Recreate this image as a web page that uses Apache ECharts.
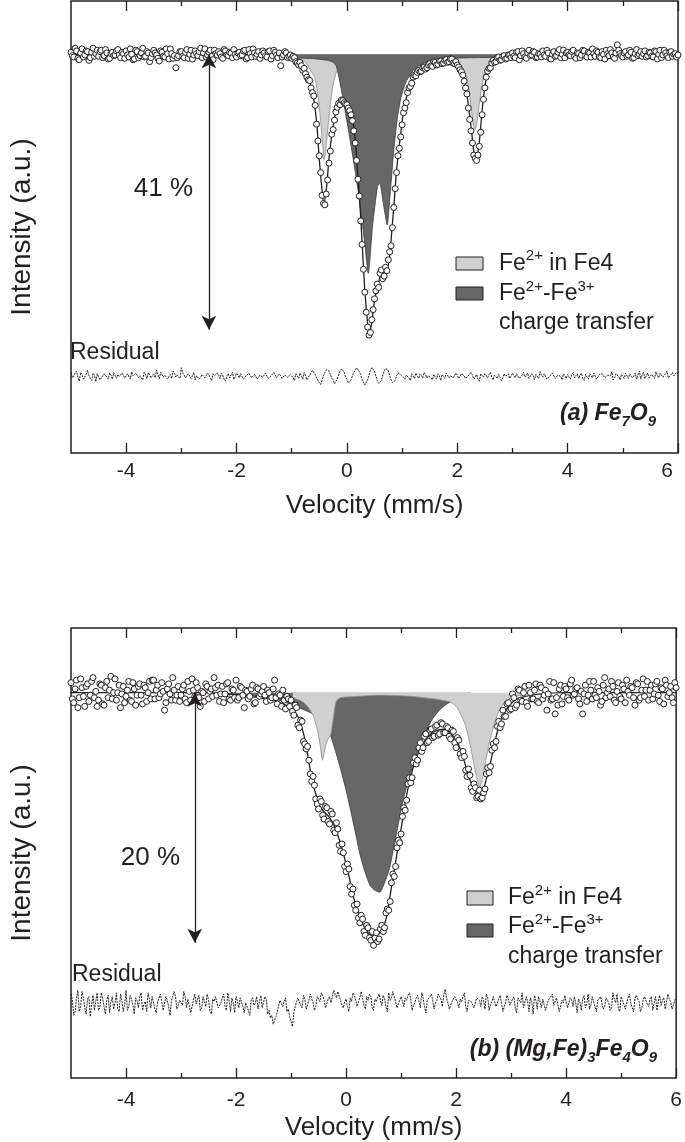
<!DOCTYPE html>
<html><head><meta charset="utf-8">
<script src="https://cdn.jsdelivr.net/npm/echarts@6/dist/echarts.min.js"></script>
<style>html,body{margin:0;padding:0;background:#fff}#c{width:685px;height:1142px}</style>
</head><body><div id="c"></div>
<script>
// ---------------- data ----------------
// channel velocities (mm/s)
const velocity = [
-5,-4.975,-4.95,-4.925,-4.9,-4.875,-4.85,-4.825,-4.8,-4.775,-4.75,-4.725,-4.7,-4.675,-4.65,-4.625,-4.6,-4.575,-4.55,-4.525,
-4.5,-4.475,-4.45,-4.425,-4.4,-4.375,-4.35,-4.325,-4.3,-4.275,-4.25,-4.225,-4.2,-4.175,-4.15,-4.125,-4.1,-4.075,-4.05,-4.025,
-4,-3.975,-3.95,-3.925,-3.9,-3.875,-3.85,-3.825,-3.8,-3.775,-3.75,-3.725,-3.7,-3.675,-3.65,-3.625,-3.6,-3.575,-3.55,-3.525,
-3.5,-3.475,-3.45,-3.425,-3.4,-3.375,-3.35,-3.325,-3.3,-3.275,-3.25,-3.225,-3.2,-3.175,-3.15,-3.125,-3.1,-3.075,-3.05,-3.025,
-3,-2.975,-2.95,-2.925,-2.9,-2.875,-2.85,-2.825,-2.8,-2.775,-2.75,-2.725,-2.7,-2.675,-2.65,-2.625,-2.6,-2.575,-2.55,-2.525,
-2.5,-2.475,-2.45,-2.425,-2.4,-2.375,-2.35,-2.325,-2.3,-2.275,-2.25,-2.225,-2.2,-2.175,-2.15,-2.125,-2.1,-2.075,-2.05,-2.025,
-2,-1.975,-1.95,-1.925,-1.9,-1.875,-1.85,-1.825,-1.8,-1.775,-1.75,-1.725,-1.7,-1.675,-1.65,-1.625,-1.6,-1.575,-1.55,-1.525,
-1.5,-1.475,-1.45,-1.425,-1.4,-1.375,-1.35,-1.325,-1.3,-1.275,-1.25,-1.225,-1.2,-1.175,-1.15,-1.125,-1.1,-1.075,-1.05,-1.025,
-1,-0.975,-0.95,-0.925,-0.9,-0.875,-0.85,-0.825,-0.8,-0.775,-0.75,-0.725,-0.7,-0.675,-0.65,-0.625,-0.6,-0.575,-0.55,-0.525,
-0.5,-0.475,-0.45,-0.425,-0.4,-0.375,-0.35,-0.325,-0.3,-0.275,-0.25,-0.225,-0.2,-0.175,-0.15,-0.125,-0.1,-0.075,-0.05,-0.025,
0,0.025,0.05,0.075,0.1,0.125,0.15,0.175,0.2,0.225,0.25,0.275,0.3,0.325,0.35,0.375,0.4,0.425,0.45,0.475,
0.5,0.525,0.55,0.575,0.6,0.625,0.65,0.675,0.7,0.725,0.75,0.775,0.8,0.825,0.85,0.875,0.9,0.925,0.95,0.975,
1,1.025,1.05,1.075,1.1,1.125,1.15,1.175,1.2,1.225,1.25,1.275,1.3,1.325,1.35,1.375,1.4,1.425,1.45,1.475,
1.5,1.525,1.55,1.575,1.6,1.625,1.65,1.675,1.7,1.725,1.75,1.775,1.8,1.825,1.85,1.875,1.9,1.925,1.95,1.975,
2,2.025,2.05,2.075,2.1,2.125,2.15,2.175,2.2,2.225,2.25,2.275,2.3,2.325,2.35,2.375,2.4,2.425,2.45,2.475,
2.5,2.525,2.55,2.575,2.6,2.625,2.65,2.675,2.7,2.725,2.75,2.775,2.8,2.825,2.85,2.875,2.9,2.925,2.95,2.975,
3,3.025,3.05,3.075,3.1,3.125,3.15,3.175,3.2,3.225,3.25,3.275,3.3,3.325,3.35,3.375,3.4,3.425,3.45,3.475,
3.5,3.525,3.55,3.575,3.6,3.625,3.65,3.675,3.7,3.725,3.75,3.775,3.8,3.825,3.85,3.875,3.9,3.925,3.95,3.975,
4,4.025,4.05,4.075,4.1,4.125,4.15,4.175,4.2,4.225,4.25,4.275,4.3,4.325,4.35,4.375,4.4,4.425,4.45,4.475,
4.5,4.525,4.55,4.575,4.6,4.625,4.65,4.675,4.7,4.725,4.75,4.775,4.8,4.825,4.85,4.875,4.9,4.925,4.95,4.975,
5,5.025,5.05,5.075,5.1,5.125,5.15,5.175,5.2,5.225,5.25,5.275,5.3,5.325,5.35,5.375,5.4,5.425,5.45,5.475,
5.5,5.525,5.55,5.575,5.6,5.625,5.65,5.675,5.7,5.725,5.75,5.775,5.8,5.825,5.85,5.875,5.9,5.925,5.95,5.975,6];

// (a) Fe7O9 measured transmission (%)
const intensityA = [
100.3,99.8,99.6,100.9,100.5,99.4,99.2,100.2,100.8,99.6,99.9,100.5,100.4,99.1,99.5,100.3,100.9,99.7,100.1,100.6,
99.7,100.4,100.6,99.5,99.8,100.7,100.2,99.3,99.4,100.1,100.3,99.8,99.9,100.5,100.7,99.9,99.5,100.3,100.1,99.4,
100.5,99.9,99.6,100.8,100.0,99.2,99.3,100.6,100.4,99.5,99.8,100.2,100.9,99.6,99.7,100.4,100.2,98.9,99.5,100.1,
100.6,100.2,99.9,99.4,99.0,100.5,100.3,99.7,99.6,100.8,100.1,99.3,100.8,100.1,99.4,99.8,98.0,99.5,99.8,100.4,
100.4,99.7,99.5,100.3,100.7,99.4,100.0,100.6,99.3,99.9,100.5,100.1,99.8,100.4,100.9,99.5,100.2,100.8,99.6,99.9,
100.3,100.6,99.7,99.2,100.6,100.1,99.9,100.4,100.1,99.6,99.4,100.7,100.5,99.9,99.8,100.3,100.2,99.5,100.7,100.0,
99.6,100.2,100.3,99.8,99.9,100.5,100.6,99.3,99.5,100.7,100.1,99.6,100.8,100.2,99.7,100.0,100.4,99.4,99.9,100.5,
100.2,99.8,99.6,100.4,100.5,99.3,99.8,100.6,100.3,99.9,99.5,100.2,98.3,99.6,99.9,100.4,100.2,99.5,99.7,99.9,
99.4,99.7,99.5,98.9,98.7,98.4,98.8,98.3,97.6,97.9,97.1,96.6,96.2,96.1,95.0,94.3,93.8,92.4,89.6,87.1,
84.9,82.4,79.0,77.8,77.6,79.2,81.3,83.8,85.6,88.1,88.8,90.2,91.4,92.1,92.7,92.5,93.2,93.1,92.8,92.6,
92.5,92.0,91.6,91.0,90.1,88.6,86.8,84.2,81.4,78.9,75.2,71.7,68.0,64.6,61.6,59.4,58.2,58.6,60.5,62.0,
63.6,64.8,65.8,65.3,67.4,67.9,66.6,67.0,68.3,67.8,69.4,70.6,71.5,74.2,77.2,80.0,82.4,84.9,86.0,87.7,
89.5,91.3,92.0,92.8,94.3,95.0,95.2,95.7,96.6,96.9,96.8,97.3,97.6,97.4,97.5,98.0,98.1,97.8,98.0,98.4,
98.6,98.3,98.2,98.9,98.8,98.4,98.5,99.0,99.0,98.6,98.7,99.1,99.2,98.8,98.9,99.3,99.3,98.7,98.6,98.9,
98.4,98.1,97.7,97.4,96.9,96.0,95.0,94.1,92.0,90.3,88.6,86.8,85.0,84.5,84.2,85.0,86.3,88.4,91.0,93.3,
95.0,96.6,97.5,97.9,98.0,98.7,99.1,98.8,98.9,99.5,99.6,99.1,99.2,99.7,99.8,99.3,99.4,99.9,99.9,99.5,
100.2,99.7,99.5,100.3,100.4,99.2,99.8,100.5,100.1,99.6,99.4,100.2,100.6,99.8,99.9,100.4,100.3,99.5,99.6,100.1,
100.0,99.6,100.5,99.9,99.7,100.6,100.2,99.4,99.3,100.0,100.4,99.7,99.8,100.3,100.7,99.5,100.0,100.6,99.5,100.2,
100.3,99.9,99.8,100.4,100.6,99.7,99.4,100.2,100.1,99.5,99.9,100.6,100.5,99.8,99.6,100.3,100.2,99.6,100.8,100.1,
99.7,100.5,100.3,99.6,99.5,100.4,100.0,99.3,100.6,100.1,99.8,100.7,100.2,99.6,99.4,100.2,101.4,100.6,100.1,99.8,
99.6,100.2,100.4,99.7,99.9,100.6,100.3,99.4,99.5,100.1,100.7,99.8,100.0,100.4,99.7,100.1,100.5,99.6,99.8,100.3,
100.2,99.7,99.6,100.5,100.4,99.3,100.0,100.6,99.5,99.9,100.6,100.2,99.8,99.5,100.3,100.4,99.7,100.0,100.1,99.6,99.9];

const residualA = [
0.6,-0.2,-0.4,0.5,0.8,-0.1,-0.7,0.6,0.3,-0.4,-0.5,0.3,0.9,0.1,-0.3,-0.6,0.5,0.2,-0.8,0.4,
0.2,-0.5,-0.3,0.1,0.4,0.3,-0.1,-0.4,0.5,0.2,-0.4,0.6,0.1,-0.3,0.3,0.0,-0.2,0.5,0.6,-0.2,
-0.3,0.4,0.2,-0.4,0.7,0.1,-0.1,0.5,0.4,-0.2,0.1,0.3,-0.5,0.6,0.3,-0.3,0.6,0.2,-0.2,0.1,
0.4,-0.2,0.9,0.3,-0.3,0.6,0.5,-0.1,0.2,0.4,-0.4,0.0,0.3,-0.3,0.8,0.5,-0.1,0.2,0.4,-0.3,
1.3,0.5,0.2,-0.2,-0.2,0.4,0.6,-0.3,0.1,0.6,-0.5,0.1,0.3,-0.4,-0.1,0.3,0.4,-0.2,-0.4,0.5,
0.2,-0.3,-0.6,0.4,0.1,-0.1,0.5,0.2,-0.3,0.5,0.2,-0.4,-0.7,0.1,0.4,-0.2,0.0,0.6,-0.4,-0.1,
0.5,0.2,-0.2,0.4,0.3,-0.4,-0.5,0.1,0.2,0.5,0.6,-0.2,-0.3,0.3,0.1,-0.4,-0.6,0.2,0.3,-0.1,
-0.2,0.5,0.4,-0.3,-0.4,0.1,0.2,0.6,0.5,-0.2,-0.3,0.4,0.1,-0.3,-0.5,0.2,0.4,-0.1,-0.1,0.3,
0.3,-0.2,-0.6,0.4,0.2,-0.3,0.5,0.1,-0.4,0.6,0.1,-0.5,-0.7,0.2,0.4,0.9,0.8,0.3,-0.2,-0.6,
-0.9,-1.2,-1.1,0.1,0.3,1.0,0.9,0.8,0.6,-0.2,-0.5,-1.1,-1.0,-0.4,0.2,0.8,1.1,1.0,0.7,-0.1,
-0.4,-1.0,-1.2,-0.5,0.1,0.6,0.9,1.3,1.2,0.7,0.3,-0.4,-0.9,-1.3,-1.1,-0.5,0.2,0.9,1.3,1.1,
0.8,0.1,-0.6,-1.0,-1.1,-0.6,0.2,0.8,1.2,1.1,0.9,0.1,-0.5,-0.9,-1.0,-0.6,0.1,0.5,0.7,0.3,
0.5,-0.1,-0.4,0.2,0.3,-0.2,-0.6,0.4,0.2,-0.3,0.5,0.1,-0.3,0.4,0.1,-0.2,0.6,0.3,-0.2,0.1,
0.3,-0.2,-0.5,0.3,0.1,-0.4,0.4,0.1,-0.6,0.3,0.2,-0.3,0.5,0.4,-0.2,0.1,0.3,-0.2,-0.4,0.5,
0.2,-0.3,-0.1,0.4,0.5,0.1,-0.3,-0.5,0.1,0.3,0.6,0.2,-0.4,-0.1,0.3,-0.4,-0.7,0.4,0.2,-0.1,
0.4,0.1,-0.2,0.3,0.6,-0.1,-0.5,0.2,0.2,-0.3,0.3,0.5,-0.6,-0.2,0.4,0.0,0.1,0.4,-0.3,-0.2,
0.5,0.1,-0.2,0.4,0.3,-0.3,-0.4,0.2,0.6,-0.1,0.1,0.5,-0.3,-0.4,0.4,0.1,-0.5,0.3,0.2,-0.3,
0.7,0.2,-0.1,0.4,0.3,-0.4,-0.6,0.1,0.2,0.5,0.5,-0.3,-0.2,0.2,0.4,0.0,-0.5,0.4,0.1,-0.3,
0.3,-0.1,-0.4,0.3,0.6,-0.2,0.1,0.4,-0.3,0.2,0.5,-0.3,-0.6,0.3,0.2,-0.4,0.4,0.1,-0.2,0.5,
0.6,-0.4,-0.3,0.3,0.1,0.4,0.5,-0.2,-0.4,0.2,0.3,0.1,0.7,-0.5,-0.2,0.4,0.4,0.0,-0.5,0.3,
0.2,-0.3,0.5,0.1,-0.3,0.4,0.6,-0.2,0.1,0.5,-0.4,0.3,0.8,-0.4,0.2,0.6,-0.3,0.1,0.5,-0.2,
-0.1,0.3,0.4,-0.3,0.7,0.2,-0.2,0.5,0.5,-0.1,0.1,0.4,0.8,-0.2,-0.3,0.3,0.6,0.1,0.2,0.6,0.4];

// (b) (Mg,Fe)3Fe4O9 measured transmission (%)
const intensityB = [
100.8,99.5,99.2,100.3,101.0,98.8,99.6,101.1,100.4,99.7,98.9,100.5,100.7,99.3,99.8,100.9,101.2,99.6,100.1,98.9,
99.4,100.7,100.6,99.1,99.0,100.4,100.9,99.6,100.2,101.3,99.5,100.0,101.1,99.4,100.0,100.6,98.8,99.9,100.5,99.2,
99.7,100.2,100.9,99.4,99.3,100.8,100.3,99.0,99.8,100.5,100.7,99.8,99.1,100.6,100.4,99.3,100.0,100.9,99.5,101.0,
101.0,99.5,100.2,100.6,99.6,99.9,100.8,100.1,98.6,99.2,100.3,100.7,99.9,99.4,101.2,100.2,99.4,99.8,100.5,99.3,
99.8,100.3,100.6,99.5,99.2,100.9,100.1,99.4,101.1,100.2,99.7,100.8,100.4,99.6,98.9,100.1,100.0,99.3,100.7,100.5,
99.5,100.1,100.3,99.7,101.2,100.4,99.8,100.6,99.3,99.9,100.5,99.2,99.9,100.7,100.8,99.5,99.4,100.3,100.2,99.6,
101.0,99.4,99.6,100.5,100.4,99.8,98.8,100.2,100.1,99.5,99.7,100.3,100.6,99.1,99.2,100.4,100.3,99.7,99.9,100.1,
100.5,99.8,99.3,100.2,100.0,99.4,99.6,100.3,101.0,99.6,99.1,99.9,99.8,98.9,100.2,99.4,98.7,99.7,99.5,98.9,
99.4,98.5,98.2,99.0,98.8,97.4,97.2,97.8,97.7,96.1,95.9,95.5,95.7,94.6,93.5,92.9,93.3,92.6,91.5,91.1,
90.7,91.5,91.3,90.2,89.9,90.9,90.8,89.7,89.5,90.5,90.3,89.0,88.8,89.6,89.1,87.8,87.3,87.9,87.2,86.1,
85.7,86.3,85.9,84.5,83.9,84.3,83.0,82.6,83.1,82.0,81.6,82.2,81.9,80.9,80.6,81.4,81.2,80.4,80.2,80.9,
79.8,80.4,80.8,80.1,80.3,81.1,81.4,80.9,81.2,82.4,82.7,82.6,83.3,84.8,85.5,85.3,86.1,87.6,88.2,88.0,
88.7,90.1,90.8,90.6,91.4,92.7,93.2,92.8,93.2,94.4,94.8,94.3,94.6,95.6,96.0,95.3,95.6,96.5,96.7,96.0,
96.1,97.0,97.1,96.4,96.5,97.3,97.4,96.6,96.7,97.6,97.5,96.8,96.8,97.3,97.2,96.5,96.3,97.0,96.9,96.0,
95.6,96.4,96.2,95.1,94.8,95.3,94.9,93.8,93.3,93.9,93.4,92.4,92.1,92.7,92.4,91.6,91.7,92.2,91.5,91.6,
92.0,92.3,93.5,94.0,93.6,94.1,95.4,95.9,95.6,96.1,97.3,97.7,97.2,97.5,98.6,98.1,98.1,99.1,99.2,98.6,
98.7,99.9,99.6,98.8,99.0,100.3,100.2,99.4,99.3,100.0,100.5,99.2,98.9,100.6,100.0,99.5,99.5,100.2,100.7,99.3,
99.2,100.6,100.4,99.5,99.8,100.2,98.6,99.9,100.9,99.4,99.5,100.8,98.3,99.6,99.0,100.3,100.6,99.1,99.7,100.5,
100.3,99.6,99.4,100.7,101.0,99.8,99.9,100.3,100.4,99.5,99.1,100.1,98.3,99.9,100.6,99.3,99.8,100.9,100.2,99.5,
100.9,99.8,99.6,100.4,100.1,99.0,99.3,100.6,101.2,99.6,100.0,100.3,99.7,100.9,100.5,99.4,99.2,100.1,100.8,99.7,
99.5,100.6,100.3,99.2,101.0,100.1,99.8,100.5,100.4,99.6,99.0,100.8,100.7,99.4,99.6,100.2,101.1,99.7,100.2,100.9,
99.4,100.2,100.6,99.5,99.9,100.7,100.9,99.8,99.3,100.4,100.3,99.1,101.0,100.6,99.7,100.0,100.5,99.6,99.2,100.8,100.4];

const residualB = [
0.8,0.3,-0.9,-0.6,0.5,1.1,-0.6,-0.2,1.0,0.5,-0.3,-0.8,0.4,0.6,-1.0,0.0,0.7,-0.5,0.2,0.9,
-0.5,-0.3,0.9,0.5,-0.2,-0.8,0.3,0.7,-0.7,0.2,0.6,-0.4,0.1,0.9,-0.4,-0.6,0.8,0.3,-0.6,0.0,
1.1,-0.5,-0.2,0.7,0.4,-0.1,-0.8,0.5,0.3,-0.3,0.6,0.9,-0.5,0.0,0.2,-0.6,0.9,0.4,-0.3,0.6,
0.5,-0.4,-0.7,0.2,0.1,0.8,0.7,-0.5,-0.4,0.6,0.3,-0.2,-0.9,0.3,0.2,1.0,0.6,-0.4,-0.1,0.3,
0.4,-0.1,1.0,0.6,-0.3,0.4,0.5,-0.7,-0.6,0.3,0.8,0.0,0.1,0.7,-0.5,-0.3,0.6,0.2,-0.2,0.8,
0.3,-0.5,-0.8,0.4,0.2,0.6,0.7,-0.3,-0.4,0.1,0.5,0.8,-0.2,-0.5,0.9,0.3,-0.6,0.5,0.1,-0.7,
0.6,0.2,-0.3,0.5,0.4,-0.2,-0.7,0.1,0.2,-0.5,-0.9,0.3,0.5,-0.1,0.1,0.6,-0.4,0.2,0.7,-0.3,
-0.2,0.6,0.4,-0.8,-0.5,-1.1,-0.9,-1.6,-1.3,-1.0,-0.6,-0.1,0.3,0.4,-0.2,0.2,0.5,-0.6,-0.4,-1.0,
-1.4,-1.8,-0.7,-0.2,0.2,0.5,0.6,-0.1,-0.3,0.7,0.4,-0.4,-0.5,0.3,0.8,0.4,0.1,-0.5,-0.2,0.6,
0.5,0.2,0.9,0.7,0.3,-0.3,-0.4,0.4,0.6,0.1,0.2,1.1,0.8,0.5,1.0,0.6,0.3,-0.1,-0.3,0.2,
0.4,-0.2,-0.6,0.5,0.2,0.9,0.7,0.3,-0.2,0.2,0.5,1.0,0.9,-0.1,-0.4,0.6,0.3,0.8,0.6,-0.3,
-0.5,0.4,0.2,0.6,0.8,0.3,-0.1,0.7,0.4,-0.2,-0.6,0.9,0.3,0.5,1.0,0.6,0.2,-0.3,-0.4,0.3,
0.6,0.2,-0.2,0.5,0.3,0.7,0.9,0.4,-0.5,-0.1,0.1,0.5,0.7,0.2,-0.3,0.9,0.5,-0.2,-0.7,0.3,
0.2,0.6,0.8,0.3,-0.4,0.1,0.3,0.8,0.6,0.4,-0.2,0.7,1.2,0.5,0.1,-0.4,-0.5,0.2,0.4,0.6,
0.7,0.1,-0.3,0.4,0.2,0.6,0.9,-0.2,-0.6,0.3,0.4,0.2,0.1,-0.3,-0.4,0.5,0.6,0.3,-0.2,0.6,
0.3,-0.4,0.8,0.5,-0.5,-0.1,0.2,0.6,0.5,-0.2,-0.3,0.4,0.7,0.1,-0.6,-0.2,0.1,0.7,0.4,-0.1,
-0.2,0.4,0.6,-0.3,-0.7,0.5,0.3,0.1,0.9,-0.3,-0.4,0.6,0.2,-0.6,0.5,0.2,-0.8,0.7,0.3,-0.4,
0.6,0.2,-0.3,0.4,0.4,-0.5,-0.6,0.3,0.2,0.6,0.8,-0.1,-0.2,0.5,0.5,-0.6,-0.5,0.3,0.1,0.7,
0.7,-0.3,-0.4,0.5,0.3,-0.2,0.6,0.1,-0.7,0.4,0.2,-0.5,0.4,0.7,-0.3,0.0,0.8,-0.4,-0.1,0.6,
0.5,-0.2,-0.6,0.3,0.2,0.6,0.7,-0.4,-0.2,0.5,0.4,0.1,-0.5,-0.3,0.9,0.4,0.1,0.8,-0.4,-0.6,
0.6,0.3,0.2,-0.4,-0.5,0.5,0.8,0.1,-0.3,-0.6,0.4,0.7,0.7,0.2,-0.6,-0.3,0.3,0.6,0.5,0.0,
-0.2,0.4,0.6,-0.5,0.1,0.6,-0.5,0.2,0.7,-0.1,0.3,0.5,-0.4,-0.3,0.8,0.4,0.2,-0.4,-0.3,0.3,0.5];

// fitted envelope and sub-spectra (velocity, transmission %)
const fitA_v = [-5,-1.2,-1.11,-1.0,-0.875,-0.755,-0.666,-0.607,-0.546,-0.505,-0.457,-0.421,-0.368,-0.327,-0.279,-0.22,-0.148,-0.071,0.018,0.09,0.15,0.196,0.245,0.286,0.328,0.375,0.405,0.447,0.495,0.554,0.625,0.703,0.75,0.78,0.821,0.864,0.9,0.941,0.982,1.03,1.09,1.18,1.27,1.39,1.51,1.69,1.86,1.98,2.10,2.17,2.22,2.27,2.31,2.34,2.39,2.43,2.47,2.52,2.58,2.70,2.94,3.2,6];
const fitA_t = [100,100,99.95,99.6,98.7,97.4,95.7,93.7,89.7,84.8,80.3,77.8,80.3,84.3,87.7,90.7,92.5,92.95,92.5,91.0,87.3,82.3,76.4,70.4,64.5,60.0,58.3,60.0,63.0,65.4,67.3,67.6,68.6,70.4,74.4,78.8,82.8,85.8,88.7,91.7,93.9,96.2,97.2,97.9,98.4,98.75,99.05,98.75,97.2,94.2,91.2,87.7,85.0,84.5,86.3,89.7,93.2,96.2,97.9,99.15,99.55,99.9,100];
const fe4A_v = [-1.0,-0.85,-0.75,-0.65,-0.58,-0.52,-0.48,-0.44,-0.41,-0.38,-0.34,-0.30,-0.25,-0.18,-0.1,0.0,0.3,0.8,1.4,1.8,2.0,2.1,2.17,2.22,2.26,2.29,2.32,2.35,2.39,2.44,2.5,2.6,2.8,2.9];
const fe4A_t = [99.7,99.3,98.8,97.5,96.5,93.5,90.5,86.5,84.3,86.0,89.5,92.5,95.5,97.6,98.6,99.1,99.5,99.7,99.6,99.4,98.8,98.0,96.5,94.0,91.5,89.5,88.85,89.5,92.0,95.0,97.3,98.7,99.5,99.7];
const ctA_v = [-1.05,-0.9,-0.6,-0.35,-0.25,-0.19,-0.10,0.018,0.137,0.227,0.316,0.388,0.464,0.554,0.596,0.66,0.73,0.79,0.85,0.91,0.97,1.06,1.18,1.33,1.51,1.86,2.3,2.70,2.85];
const ctA_t = [99.5,99.45,99.35,99.1,98.8,98.2,94.7,89.2,83.3,78.3,72.4,67.4,74.4,80.3,80.8,77.8,74.6,79.8,85.8,90.2,93.2,95.7,97.4,98.4,99.05,99.4,99.5,99.55,99.6];

const fitB_v = [-5,-2.6,-2.2,-1.9,-1.6,-1.47,-1.23,-0.99,-0.875,-0.786,-0.725,-0.666,-0.607,-0.546,-0.488,-0.398,-0.309,-0.22,-0.13,-0.041,0.048,0.138,0.257,0.375,0.495,0.584,0.673,0.745,0.793,0.852,0.911,0.971,1.03,1.10,1.18,1.27,1.39,1.51,1.63,1.775,1.89,2.01,2.10,2.19,2.28,2.37,2.43,2.49,2.55,2.64,2.73,2.82,2.94,3.05,3.17,3.5,4.0,6];
const fitB_t = [100,100,99.9,99.8,99.6,99.5,99.25,98.75,98.1,96.95,95.76,94.17,92.85,91.8,91.0,90.46,90.07,89.4,88.34,87.0,85.43,83.6,82.0,80.93,80.53,80.66,81.2,82.25,83.58,85.16,86.75,88.34,89.93,91.78,93.37,94.7,95.89,96.55,96.95,97.08,96.8,96.15,95.23,93.9,92.7,91.9,91.8,92.2,93.1,94.7,96.55,97.9,98.8,99.33,99.6,99.88,100,100];
const fe4B_v = [-0.97,-0.8,-0.7,-0.6,-0.52,-0.47,-0.43,-0.38,-0.33,-0.28,-0.23,-0.18,-0.1,0.2,0.6,1.2,1.6,1.8,1.92,2.02,2.10,2.16,2.22,2.28,2.34,2.43,2.49,2.58,2.70,2.82,3.0,3.2];
const fe4B_t = [99.6,99.3,98.9,98.2,97.0,95.8,94.6,95.6,96.3,96.6,98.0,99.3,99.6,99.7,99.8,99.7,99.5,99.35,99.2,98.8,98.14,97.5,96.55,95.3,93.9,92.45,93.37,95.5,97.6,98.9,99.6,99.8];
const ctB_v = [-2.5,-2.0,-1.5,-1.2,-1.0,-0.8,-0.6,-0.45,-0.35,-0.28,-0.19,-0.1,0.0,0.078,0.17,0.257,0.35,0.435,0.52,0.614,0.70,0.79,0.91,1.03,1.21,1.39,1.57,1.74,1.92,2.1,2.25];
const ctB_t = [100,99.88,99.62,99.38,99.05,98.7,98.3,97.85,97.3,96.55,95.3,93.9,92.2,90.7,88.8,87.0,85.6,84.6,84.2,84.05,84.8,85.96,88.6,91.26,94.17,96.3,97.9,98.8,99.33,99.73,100];

const xMajorTicks = [-4,-2,0,2,4,6];
const xMinorTicks = [-3,-1,1,3,5];
const baseline = 100;
const depthA = 41, depthB = 20;
const arrowXA = -2.5, arrowXB = -2.75;
const residualOffsetA = 52.05, residualOffsetB = 75.1;

// ---------------- styling ----------------
const INK = '#231f20';
const FONT = '"Liberation Sans", Arial, Helvetica, sans-serif';
const LIGHT = '#d0d0d0';
const DARK = '#676767';

const pairs = (xs, ys) => xs.map((x, i) => [x, ys[i]]);
const offsetPairs = (xs, ys, off) => xs.map((x, i) => [x, off + ys[i]]);

function xAx(gi, pos, ticks, len, labelled, shiftLast, margin, nameGap) {
  const lab = labelled ? {
    show: true, customValues: xMajorTicks, margin: margin, fontSize: 21, color: INK, fontFamily: FONT,
    formatter: v => (shiftLast && v === 6) ? '{r|6}' : String(v),
    rich: { r: { fontSize: 21, color: INK, fontFamily: FONT, padding: [0, 22, 0, 0] } }
  } : { show: false };
  return {
    type: 'value', gridIndex: gi, position: pos, min: -5, max: 6,
    axisLine: { show: false }, splitLine: { show: false },
    axisTick: { show: true, inside: true, length: len, customValues: ticks, lineStyle: { color: INK, width: 1.3 } },
    axisLabel: lab,
    name: labelled ? 'Velocity (mm/s)' : '',
    nameLocation: 'middle', nameGap: nameGap || 40,
    nameTextStyle: { fontSize: 26, color: INK, fontFamily: FONT }
  };
}
function yAx(gi, min, max) {
  return {
    type: 'value', gridIndex: gi, min: min, max: max,
    axisLine: { show: false }, axisTick: { show: false }, axisLabel: { show: false }, splitLine: { show: false },
    name: 'Intensity (a.u.)', nameLocation: 'middle', nameRotate: 90, nameGap: 35,
    nameTextStyle: { fontSize: 28, color: INK, fontFamily: FONT }
  };
}
function area(name, xi, yi, data, color, edge, z) {
  return { name, type: 'line', xAxisIndex: xi, yAxisIndex: yi, data, showSymbol: false, smooth: 0.2,
    lineStyle: { color: edge, width: 0.8 }, areaStyle: { color: color, opacity: 1, origin: baseline }, z: z, silent: true };
}
function panelSeries(xi, yi, d) {
  const light = area('Fe2+ in Fe4', xi, yi, pairs(d.fe4v, d.fe4t), LIGHT, '#8a8a8a', d.darkOnTop ? 1 : 2);
  const dark = area('charge transfer', xi, yi, pairs(d.ctv, d.ctt), DARK, '#3a3a3a', d.darkOnTop ? 2 : 1);
  const layers = d.darkOnTop ? [light, dark] : [dark, light];
  return layers.concat([
    { type: 'line', xAxisIndex: xi, yAxisIndex: yi, data: pairs(d.fitv, d.fitt), showSymbol: false, smooth: 0.3,
      lineStyle: { color: INK, width: 1.3 }, z: 3, silent: true,
      markLine: { silent: true, symbol: ['arrow', 'arrow'], symbolSize: [11, 14], animation: false,
        lineStyle: { color: INK, width: 1.3, type: 'solid' }, label: { show: false },
        data: [[{ coord: [d.arrowX, baseline] }, { coord: [d.arrowX, baseline - d.depth] }]] } },
    { type: 'line', xAxisIndex: xi, yAxisIndex: yi, data: offsetPairs(velocity, d.res, d.resOff), showSymbol: false,
      lineStyle: { color: INK, width: 1, type: [2, 1] }, z: 3, silent: true },
    { type: 'scatter', xAxisIndex: xi, yAxisIndex: yi, data: pairs(velocity, d.data), symbol: 'circle', symbolSize: 6,
      itemStyle: { color: '#ffffff', borderColor: INK, borderWidth: 1, opacity: 1 }, z: 4, silent: true }
  ]);
}

const rich = {
  n: { fontSize: 23, fontFamily: FONT, fill: INK, lineHeight: 30, verticalAlign: 'middle' },
  big: { fontSize: 26, fontFamily: FONT, fill: INK, lineHeight: 30, verticalAlign: 'middle' },
  p: { fontSize: 15, fontFamily: FONT, fill: INK, lineHeight: 15, verticalAlign: 'top' },
  bn: { fontSize: 23, fontFamily: FONT, fill: INK, fontWeight: 'bold', fontStyle: 'italic', lineHeight: 30, verticalAlign: 'middle' },
  bs: { fontSize: 15, fontFamily: FONT, fill: INK, fontWeight: 'bold', fontStyle: 'italic', lineHeight: 15, verticalAlign: 'bottom' }
};
function txt(x, y, text, align) {
  return { type: 'text', x: x, y: y, silent: true, z: 10,
    style: { text: text, rich: rich, align: align || 'left', verticalAlign: 'middle', fill: INK, fontFamily: FONT } };
}
function box(x, y, w, h, color) {
  return { type: 'rect', silent: true, z: 10, shape: { x: x, y: y, width: w, height: h }, style: { fill: color, stroke: INK, lineWidth: 1 } };
}

const option = {
  animation: false,
  backgroundColor: '#ffffff',
  grid: [
    { left: 62, top: 1, width: 616, height: 452, show: true, borderColor: INK, borderWidth: 1.5, backgroundColor: 'transparent' },
    { left: 63, top: 628, width: 615, height: 453, show: true, borderColor: INK, borderWidth: 1.5, backgroundColor: 'transparent' }
  ],
  xAxis: [
    xAx(0, 'bottom', xMajorTicks, 10, true, true, 8, 40), xAx(0, 'bottom', xMinorTicks, 5, false),
    xAx(0, 'top', xMajorTicks, 10, false), xAx(0, 'top', xMinorTicks, 5, false),
    xAx(1, 'bottom', xMajorTicks, 10, true, false, 12, 37), xAx(1, 'bottom', xMinorTicks, 5, false),
    xAx(1, 'top', xMajorTicks, 10, false), xAx(1, 'top', xMinorTicks, 5, false)
  ],
  yAxis: [ yAx(0, 40.66, 107.93), yAx(1, 69.19, 105.17) ],
  series: [].concat(
    panelSeries(0, 0, { darkOnTop: true, fe4v: fe4A_v, fe4t: fe4A_t, ctv: ctA_v, ctt: ctA_t, fitv: fitA_v, fitt: fitA_t,
      arrowX: arrowXA, depth: depthA, res: residualA, resOff: residualOffsetA, data: intensityA }),
    panelSeries(4, 1, { darkOnTop: false, fe4v: fe4B_v, fe4t: fe4B_t, ctv: ctB_v, ctt: ctB_t, fitv: fitB_v, fitt: fitB_t,
      arrowX: arrowXB, depth: depthB, res: residualB, resOff: residualOffsetB, data: intensityB })
  ),
  graphic: [
    txt(193, 189, '{big|41 %}', 'right'),
    txt(70, 353, '{n|Residual}', 'left'),
    box(456, 257, 27, 13, LIGHT), box(456, 287, 27, 13, DARK),
    txt(499, 263.5, '{n|Fe}{p|2+}{n| in Fe4}'),
    txt(499, 294, '{n|Fe}{p|2+}{n|-Fe}{p|3+}'),
    txt(499, 323, '{n|charge transfer}'),
    txt(656, 414, '{bn|(a) Fe}{bs|7}{bn|O}{bs|9}', 'right'),

    txt(180, 858, '{big|20 %}', 'right'),
    txt(72, 975, '{n|Residual}', 'left'),
    box(467, 891, 26, 14, LIGHT), box(467, 924, 26, 13, DARK),
    txt(508, 898, '{n|Fe}{p|2+}{n| in Fe4}'),
    txt(508, 927, '{n|Fe}{p|2+}{n|-Fe}{p|3+}'),
    txt(508, 957, '{n|charge transfer}'),
    txt(657, 1050, '{bn|(b) (Mg,Fe)}{bs|3}{bn|Fe}{bs|4}{bn|O}{bs|9}', 'right')
  ]
};
const chart = echarts.init(document.getElementById('c'), null, { renderer: 'canvas' });
chart.setOption(option);
</script>
</body></html>
